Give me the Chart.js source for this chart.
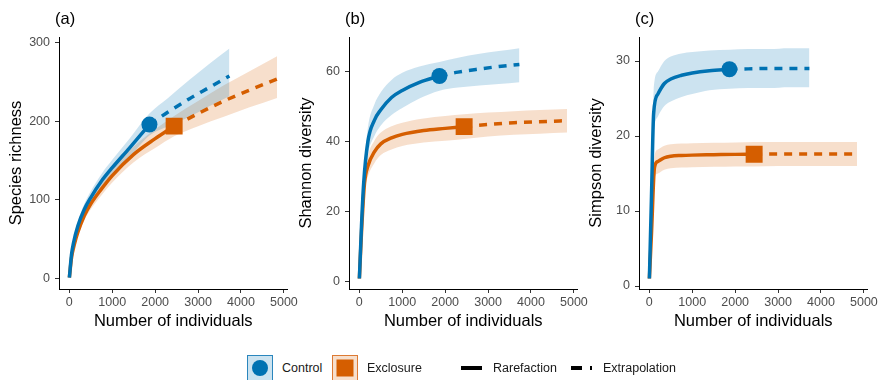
<!DOCTYPE html>
<html>
<head>
<meta charset="utf-8">
<script src="https://cdn.jsdelivr.net/npm/chart.js@4.4.0/dist/chart.umd.min.js"></script>
<style>
  body { margin: 0; width: 882px; height: 380px; background: #fff; position: relative; overflow: hidden;
         font-family: "Liberation Sans", Arial, sans-serif; }
  canvas.panel { position: absolute; top: 0; }
  .key { position: absolute; top: 355px; width: 26px; height: 26px; box-sizing: border-box; border: 1.5px solid; }
  .key span { position: absolute; left: 50%; top: 50%; transform: translate(-50%, -50%); }
  .lab { position: absolute; top: 360px; font-size: 12.5px; line-height: 16px; color: #1a1a1a; }
  .ln { position: absolute; top: 366px; height: 4px; background: #000; }
</style>
</head>
<body>
<canvas class="panel" id="pa" width="300" height="340" style="left:0px"></canvas>
<canvas class="panel" id="pb" width="300" height="340" style="left:290px"></canvas>
<canvas class="panel" id="pc" width="300" height="340" style="left:580px"></canvas>

<div class="key" style="left:247px; border-color:#2a86bd; background:#cce3f0"><span style="width:16px;height:16px;border-radius:50%;background:#0072B2"></span></div>
<div class="lab" style="left:282px">Control</div>
<div class="key" style="left:332px; border-color:#dd7a33; background:#f7dfcc"><span style="width:17px;height:17px;background:#D55E00"></span></div>
<div class="lab" style="left:367px">Exclosure</div>
<div class="ln" style="left:461px; width:21px"></div>
<div class="lab" style="left:493px">Rarefaction</div>
<div class="ln" style="left:571px; width:11px"></div>
<div class="ln" style="left:590px; width:2px"></div>
<div class="lab" style="left:603px">Extrapolation</div>

<script>
const xTicks = [0, 1000, 2000, 3000, 4000, 5000];

// sample sizes; index of the observed sample splits rarefaction / extrapolation
const ctrlN = [1, 50, 100, 200, 350, 500, 750, 1000, 1400, 1866, 2300, 2800, 3250, 3730];
const ctrlObs = 9;
const exclN = [1, 50, 120, 200, 350, 500, 750, 1000, 1500, 2000, 2442, 3000, 3600, 4200, 4840];
const exclObs = 10;

// (a) species richness
const ctrlRich   = [1, 30, 46, 67, 88, 103, 124, 141, 166, 196, 212, 229, 243, 258];
const ctrlRichHi = [1, 34, 51, 73, 95, 111, 133, 151, 178, 210, 230, 253, 273, 293];
const ctrlRichLo = [1, 26, 41, 61, 81, 95, 115, 131, 154, 182, 194, 206, 219, 232];
const exclRich   = [1, 26, 44, 59, 80, 95, 114, 131, 158, 178, 194, 210, 226, 240, 254];
const exclRichHi = [1, 29, 48, 64, 86, 102, 122, 140, 168, 190, 207, 226, 246, 264, 283];
const exclRichLo = [1, 23, 40, 54, 74, 88, 106, 122, 148, 166, 181, 194, 206, 218, 230];

// (b) Shannon diversity
const ctrlShan   = [1, 16, 28, 40, 46, 49, 52.5, 54.5, 56.8, 58.6, 59.7, 60.6, 61.3, 61.9];
const ctrlShanHi = [1, 18, 31, 44, 50.5, 54, 57.5, 59.5, 61.3, 62.6, 63.8, 64.9, 65.7, 66.5];
const ctrlShanLo = [1, 14, 25, 36, 41.5, 44.5, 47.5, 49.5, 52.2, 54.4, 55.3, 55.9, 56.3, 56.8];
const exclShan   = [1, 14, 28, 33, 37, 39.3, 41, 42, 43.1, 43.7, 44.2, 44.8, 45.3, 45.6, 45.9];
const exclShanHi = [1, 15.5, 30.5, 36, 40.2, 42.5, 44.3, 45.3, 46.5, 47.2, 47.7, 48.2, 48.6, 48.9, 49.2];
const exclShanLo = [1, 12.5, 25.5, 30, 33.8, 36.1, 37.7, 38.7, 39.7, 40.2, 40.7, 41.4, 41.9, 42.2, 42.5];

// (c) Simpson diversity
const ctrlSimp   = [1, 12, 23, 25.6, 27, 27.6, 28.1, 28.4, 28.7, 28.9, 28.95, 29, 29, 29];
const ctrlSimpHi = [1, 13.5, 26, 28.6, 30, 30.6, 31, 31.2, 31.4, 31.5, 31.6, 31.6, 31.7, 31.7];
const ctrlSimpLo = [1, 10.5, 20, 22.6, 24, 24.6, 25.2, 25.6, 26.1, 26.3, 26.4, 26.4, 26.5, 26.5];
const exclSimp   = [1, 7, 15.8, 16.6, 17.1, 17.3, 17.4, 17.45, 17.5, 17.55, 17.57, 17.6, 17.6, 17.6, 17.6];
const exclSimpHi = [1, 7.8, 17.3, 18.2, 18.7, 18.9, 19, 19.05, 19.1, 19.15, 19.2, 19.2, 19.2, 19.2, 19.2];
const exclSimpLo = [1, 6.2, 14.3, 15, 15.5, 15.7, 15.8, 15.85, 15.9, 15.95, 15.95, 16, 16, 16, 16];

const BLUE = '#0072B2', ORANGE = '#D55E00';
const FONT = '"Liberation Sans", Arial, sans-serif';
Chart.defaults.font.family = FONT;

function pts(ns, ys) { return ns.map((n, i) => ({x: n, y: ys[i]})); }

function series(ns, obs, v, lo, hi, color, band, style) {
  return [
    {data: pts(ns, hi), borderWidth: 0, pointRadius: 0, fill: '+1', backgroundColor: band, cubicInterpolationMode: 'monotone', order: 5},
    {data: pts(ns, lo), borderWidth: 0, pointRadius: 0, fill: false, cubicInterpolationMode: 'monotone', order: 5},
    {data: pts(ns.slice(0, obs + 1), v.slice(0, obs + 1)), borderColor: color, borderWidth: 3.5, pointRadius: 0,
     fill: false, cubicInterpolationMode: 'monotone', order: 2},
    {data: pts(ns.slice(obs), v.slice(obs)), borderColor: color, borderWidth: 3.5, borderDash: [8, 7], pointRadius: 0,
     fill: false, cubicInterpolationMode: 'monotone', order: 2},
    {data: [{x: ns[obs], y: v[obs]}], showLine: false, pointStyle: style, pointRadius: style === 'circle' ? 8 : 12,
     backgroundColor: color, borderWidth: 0, order: 1}
  ];
}

const tagPlugin = {
  id: 'tag',
  afterDraw(chart, args, opts) {
    const ctx = chart.ctx;
    ctx.save();
    ctx.font = '16.5px ' + FONT;
    ctx.fillStyle = '#000';
    ctx.textBaseline = 'middle';
    ctx.fillText(opts.text, chart.chartArea.left - 4, 19);
    ctx.restore();
  }
};

function panel(id, tag, yTitle, yTicks, yMin, yMax, c, e) {
  new Chart(document.getElementById(id), {
    type: 'line',
    data: {
      datasets: [
        ...series(ctrlN, ctrlObs, c[0], c[1], c[2], BLUE, 'rgba(0,114,178,0.2)', 'circle'),
        ...series(exclN, exclObs, e[0], e[1], e[2], ORANGE, 'rgba(213,94,0,0.2)', 'rect')
      ]
    },
    options: {
      responsive: false,
      animation: false,
      layout: {padding: {top: 37, right: 11, left: 0, bottom: 0}},
      plugins: {
        legend: {display: false},
        tooltip: {enabled: false},
        filler: {drawTime: 'beforeDatasetsDraw'},
        tag: {text: tag}
      },
      scales: {
        x: {
          type: 'linear', min: -241, max: 5082,
          afterBuildTicks: s => { s.ticks = xTicks.map(v => ({value: v})); },
          afterFit: s => { s.height = 51; },
          ticks: {font: {size: 12.5}, color: '#4d4d4d', padding: 2, maxRotation: 0, autoSkip: false, callback: v => String(v)},
          grid: {drawOnChartArea: false, tickLength: 4, color: '#333'},
          border: {color: '#000', width: 1},
          title: {display: true, text: 'Number of individuals', color: '#000', font: {size: 16.5}, padding: {top: 0, bottom: 9}}
        },
        y: {
          type: 'linear', min: yMin, max: yMax,
          afterBuildTicks: s => { s.ticks = yTicks.map(v => ({value: v})); },
          afterFit: s => { s.width = 59; },
          ticks: {font: {size: 12.5}, color: '#4d4d4d', padding: 5, autoSkip: false, callback: v => String(v)},
          grid: {drawOnChartArea: false, tickLength: 4, color: '#333'},
          border: {color: '#000', width: 1},
          title: {display: true, text: yTitle, color: '#000', font: {size: 16.5}, padding: {top: 7, bottom: 0}}
        }
      }
    },
    plugins: [tagPlugin]
  });
}

panel('pa', '(a)', 'Species richness', [0, 100, 200, 300], -13.6, 307.6,
      [ctrlRich, ctrlRichLo, ctrlRichHi], [exclRich, exclRichLo, exclRichHi]);
panel('pb', '(b)', 'Shannon diversity', [0, 20, 40, 60], -2, 69.7,
      [ctrlShan, ctrlShanLo, ctrlShanHi], [exclShan, exclShanLo, exclShanHi]);
panel('pc', '(c)', 'Simpson diversity', [0, 10, 20, 30], -0.4, 33.2,
      [ctrlSimp, ctrlSimpLo, ctrlSimpHi], [exclSimp, exclSimpLo, exclSimpHi]);
</script>
</body>
</html>
